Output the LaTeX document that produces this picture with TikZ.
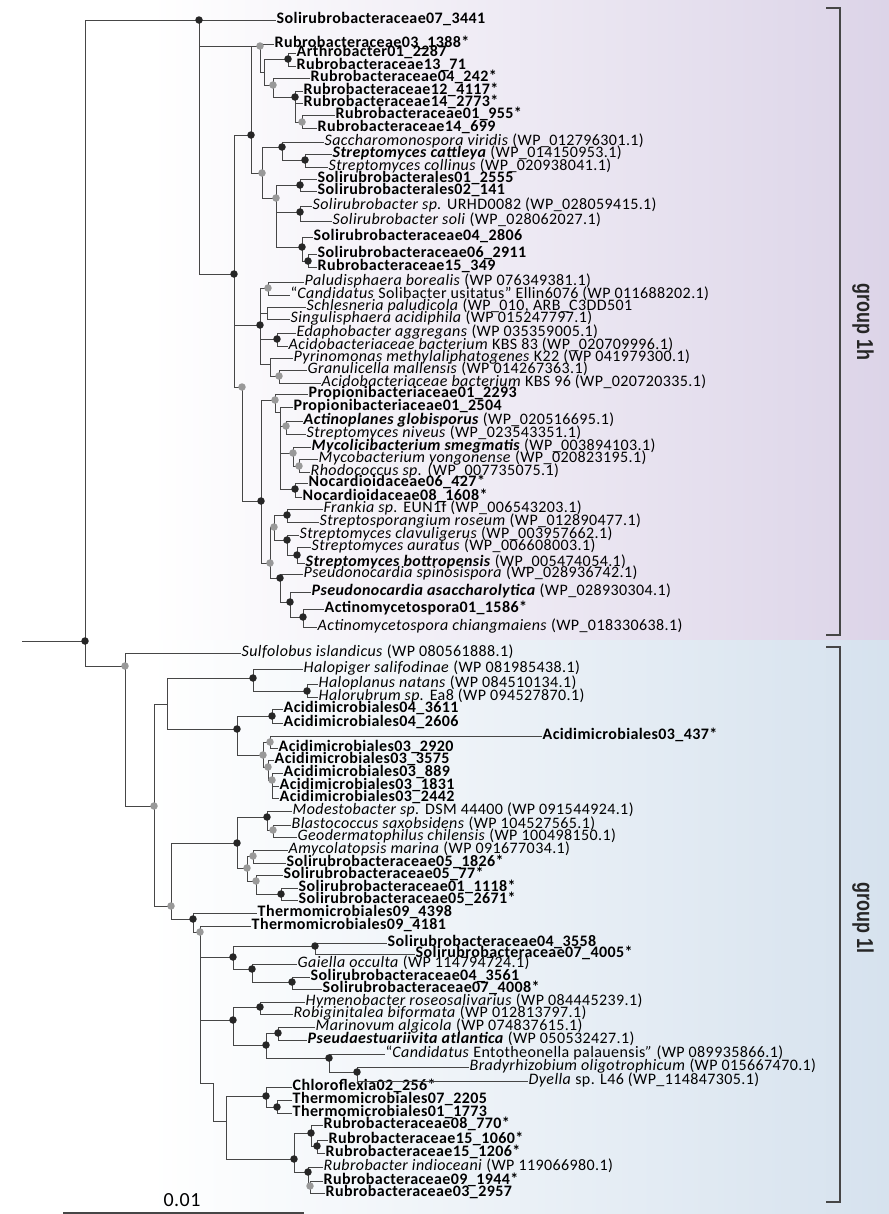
\documentclass[tikz,border=0pt]{standalone}
\usepackage{fontspec}
\setmainfont{Carlito}[LetterSpace=2.5]
\newfontfamily\grpfont[FakeStretch=0.78]{Liberation Sans}
\definecolor{lav}{RGB}{220,212,232}
\definecolor{pblue}{RGB}{214,226,238}
\definecolor{brc}{RGB}{70,70,70}
\tikzset{
  br/.style={draw=brc, line width=1bp},
  brk/.style={draw=brc, line width=1.2bp},
  bdot/.style={circle, fill=black!85, inner sep=0pt, minimum size=7.5bp},
  gdot/.style={circle, fill=black!40, inner sep=0pt, minimum size=7.5bp},
  lab/.style={anchor=west, inner sep=0.5bp, text height=8.5bp, text depth=1.5bp, font=\fontsize{16bp}{16bp}\selectfont},
  iso/.style={lab, font=\fontsize{16bp}{16bp}\selectfont\bfseries},
  grp/.style={rotate=-90, text=black!85, font=\grpfont\bfseries\fontsize{23bp}{23bp}\selectfont},
}
\begin{document}
\begin{tikzpicture}[x=1bp,y=-1bp]
\useasboundingbox (0,0) rectangle (889,1214);
\fill[white] (0,0) rectangle (889,1214);
\shade[left color=white, right color=lav] (150,0) rectangle (889,640);
\shade[left color=white, right color=pblue] (150,640) rectangle (889,1214);

% inner nodes, group 1h
\coordinate (rs) at (22,641);
\coordinate (R) at (85,641);
\coordinate (N1) at (199,20);
\coordinate (G1) at (260,46);
\coordinate (N4) at (264,72);
\coordinate (B1) at (288,59);
\coordinate (G3) at (273,85);
\coordinate (B2) at (295,97);
\coordinate (G4) at (302,122);
\coordinate (N3) at (234,274);
\coordinate (N2) at (251,135);
\coordinate (G2) at (262,173);
\coordinate (B3) at (282,147);
\coordinate (B3b) at (305,160);
\coordinate (G5) at (276,198);
\coordinate (B4) at (300,185);
\coordinate (B5) at (300,212);
\coordinate (B6) at (302,247);
\coordinate (B7) at (308,261);
\coordinate (B8) at (260,325);
\coordinate (G6) at (268,288);
\coordinate (N5) at (267,313);
\coordinate (B9) at (277,339);
\coordinate (N6) at (270,364);
\coordinate (G7) at (279,376);
\coordinate (A0) at (242,387);
\coordinate (A1) at (261,501);
\coordinate (A2) at (275,400);
\coordinate (A3) at (280,412);
\coordinate (A4) at (286,426);
\coordinate (A5) at (293,453);
\coordinate (A6) at (299,466);
\coordinate (A7) at (295,489);
\coordinate (A8) at (270,563);
\coordinate (A9) at (274,527);
\coordinate (A10) at (287,515);
\coordinate (A11) at (287,540);
\coordinate (A12) at (297,555);
\coordinate (A13) at (280,578);
\coordinate (A14) at (290,602);
\coordinate (A15) at (303,617);

% inner nodes, group 1l
\coordinate (S0) at (125,666);
\coordinate (S1) at (154,806);
\coordinate (S2) at (167,704);
\coordinate (S3) at (253,678);
\coordinate (S4) at (307,691);
\coordinate (S5) at (237,729);
\coordinate (S6) at (272,716);
\coordinate (S7) at (263,755);
\coordinate (S8) at (270,742);
\coordinate (S9) at (268,767);
\coordinate (S10) at (272,780);
\coordinate (T0) at (171,906);
\coordinate (T1) at (237,843);
\coordinate (T2) at (267,817);
\coordinate (T3) at (273,830);
\coordinate (T4) at (247,868);
\coordinate (T5) at (253,856);
\coordinate (T6) at (256,881);
\coordinate (T7) at (281,894);
\coordinate (T8) at (193,919);
\coordinate (T9) at (200,932);
\coordinate (U1) at (233,957);
\coordinate (U2) at (315,946);
\coordinate (U3) at (252,969);
\coordinate (U4) at (292,982);
\coordinate (U5) at (233,1020);
\coordinate (U6) at (260,1007);
\coordinate (U7) at (266,1045);
\coordinate (U8) at (278,1033);
\coordinate (U9) at (329,1058);
\coordinate (U10) at (357,1072);
\coordinate (U11) at (213,1083);
\coordinate (U12) at (226,1121);
\coordinate (U13) at (266,1096);
\coordinate (U14) at (277,1107);
\coordinate (U15) at (294,1159);
\coordinate (U16) at (311,1133);
\coordinate (U17) at (317,1146);
\coordinate (U18) at (308,1172);
\coordinate (U19) at (310,1186);

% leaves, group 1h
\node[iso] (l01) at (276,20) {Solirubrobacteraceae07\_3441};
\node[iso] (l02) at (274,44) {Rubrobacteraceae03\_1388*};
\node[iso] (l03) at (296,53) {Arthrobacter01\_2287};
\node[iso] (l04) at (296,66) {Rubrobacteraceae13\_71};
\node[iso] (l05) at (310,78) {Rubrobacteraceae04\_242*};
\node[iso] (l06) at (303,91) {Rubrobacteraceae12\_4117*};
\node[iso] (l07) at (303,103) {Rubrobacteraceae14\_2773*};
\node[iso] (l08) at (335,115) {Rubrobacteraceae01\_955*};
\node[iso] (l09) at (317,128) {Rubrobacteraceae14\_699};
\node[lab] (l10) at (324,142) {\textit{Saccharomonospora viridis} (WP\_012796301.1)};
\node[lab] (l11) at (332,154) {\textbf{\textit{Streptomyces cattleya}} (WP\_014150953.1)};
\node[lab] (l12) at (328,167) {\textit{Streptomyces collinus} (WP\_020938041.1)};
\node[iso] (l13) at (317,179) {Solirubrobacterales01\_2555};
\node[iso] (l14) at (317,191) {Solirubrobacterales02\_141};
\node[lab] (l15) at (312,206) {\textit{Solirubrobacter sp.} URHD0082 (WP\_028059415.1)};
\node[lab] (l16) at (332,221) {\textit{Solirubrobacter soli} (WP\_028062027.1)};
\node[iso] (l17) at (313,237) {Solirubrobacteraceae04\_2806};
\node[iso] (l18) at (317,254) {Solirubrobacteraceae06\_2911};
\node[iso] (l19) at (317,267) {Rubrobacteraceae15\_349};
\node[lab] (l20) at (304,282) {\textit{Paludisphaera borealis} (WP 076349381.1)};
\node[lab] (l21) at (290,295) {“\textit{Candidatus} Solibacter usitatus” Ellin6076 (WP 011688202.1)};
\node[lab] (l22) at (306,307) {\textit{Schlesneria paludicola} (WP\_010, ARB\_C3DD501};
\node[lab] (l23) at (290,319) {\textit{Singulisphaera acidiphila} (WP 015247797.1)};
\node[lab] (l24) at (296,333) {\textit{Edaphobacter aggregans} (WP 035359005.1)};
\node[lab] (l25) at (288,346) {\textit{Acidobacteriaceae bacterium} KBS 83 (WP\_020709996.1)};
\node[lab] (l26) at (293,358) {\textit{Pyrinomonas methylaliphatogenes} K22 (WP 041979300.1)};
\node[lab] (l27) at (307,370) {\textit{Granulicella mallensis} (WP 014267363.1)};
\node[lab] (l28) at (321,383) {\textit{Acidobacteriaceae bacterium} KBS 96 (WP\_020720335.1)};
\node[iso] (l29) at (308,394) {Propionibacteriaceae01\_2293};
\node[iso] (l30) at (293,407) {Propionibacteriaceae01\_2504};
\node[lab] (l31) at (303,421) {\textbf{\textit{Actinoplanes globisporus}} (WP\_020516695.1)};
\node[lab] (l32) at (306,434) {\textit{Streptomyces niveus} (WP\_023543351.1)};
\node[lab] (l33) at (311,447) {\textbf{\textit{Mycolicibacterium smegmatis}} (WP\_003894103.1)};
\node[lab] (l34) at (318,459) {\textit{Mycobacterium yongonense} (WP\_020823195.1)};
\node[lab] (l35) at (310,472) {\textit{Rhodococcus sp.} (WP\_007735075.1)};
\node[iso] (l36) at (308,483) {Nocardioidaceae06\_427*};
\node[iso] (l37) at (302,497) {Nocardioidaceae08\_1608*};
\node[lab] (l38) at (323,509) {\textit{Frankia sp.} EUN1f (WP\_006543203.1)};
\node[lab] (l39) at (319,522) {\textit{Streptosporangium roseum} (WP\_012890477.1)};
\node[lab] (l40) at (299,535) {\textit{Streptomyces clavuligerus} (WP\_003957662.1)};
\node[lab] (l41) at (311,547) {\textit{Streptomyces auratus} (WP\_006608003.1)};
\node[lab] (l42) at (305,563) {\textbf{\textit{Streptomyces bottropensis}} (WP\_005474054.1)};
\node[lab] (l43) at (303,574) {\textit{Pseudonocardia spinosispora} (WP\_028936742.1)};
\node[lab] (l44) at (311,592) {\textbf{\textit{Pseudonocardia asaccharolytica}} (WP\_028930304.1)};
\node[iso] (l45) at (324,609) {Actinomycetospora01\_1586*};
\node[lab] (l46) at (317,627) {\textit{Actinomycetospora chiangmaiens} (WP\_018330638.1)};

% leaves, group 1l
\node[lab] (m01) at (241,653) {\textit{Sulfolobus islandicus} (WP 080561888.1)};
\node[lab] (m02) at (303,669) {\textit{Halopiger salifodinae} (WP 081985438.1)};
\node[lab] (m03) at (318,684) {\textit{Haloplanus natans} (WP 084510134.1)};
\node[lab] (m04) at (318,697) {\textit{Halorubrum sp.} Ea8 (WP 094527870.1)};
\node[iso] (m05) at (283,709) {Acidimicrobiales04\_3611};
\node[iso] (m06) at (283,723) {Acidimicrobiales04\_2606};
\node[iso] (m07) at (542,736) {Acidimicrobiales03\_437*};
\node[iso] (m08) at (278,748) {Acidimicrobiales03\_2920};
\node[iso] (m09) at (274,760) {Acidimicrobiales03\_3575};
\node[iso] (m10) at (283,773) {Acidimicrobiales03\_889};
\node[iso] (m11) at (279,786) {Acidimicrobiales03\_1831};
\node[iso] (m12) at (279,798) {Acidimicrobiales03\_2442};
\node[lab] (m13) at (292,811) {\textit{Modestobacter sp.} DSM 44400 (WP 091544924.1)};
\node[lab] (m14) at (291,825) {\textit{Blastococcus saxobsidens} (WP 104527565.1)};
\node[lab] (m15) at (297,837) {\textit{Geodermatophilus chilensis} (WP 100498150.1)};
\node[lab] (m16) at (288,850) {\textit{Amycolatopsis marina} (WP 091677034.1)};
\node[iso] (m17) at (286,863) {Solirubrobacteraceae05\_1826*};
\node[iso] (m18) at (283,875) {Solirubrobacteraceae05\_77*};
\node[iso] (m19) at (298,888) {Solirubrobacteraceae01\_1118*};
\node[iso] (m20) at (298,900) {Solirubrobacteraceae05\_2671*};
\node[iso] (m21) at (257,913) {Thermomicrobiales09\_4398};
\node[iso] (m22) at (251,926) {Thermomicrobiales09\_4181};
\node[iso] (m23) at (387,943) {Solirubrobacteraceae04\_3558};
\node[iso] (m24) at (415,954) {Solirubrobacteraceae07\_4005*};
\node[lab] (m25) at (297,964) {\textit{Gaiella occulta} (WP 114794724.1)};
\node[iso] (m26) at (310,977) {Solirubrobacteraceae04\_3561};
\node[iso] (m27) at (322,989) {Solirubrobacteraceae07\_4008*};
\node[lab] (m28) at (305,1002) {\textit{Hymenobacter roseosalivarius} (WP 084445239.1)};
\node[lab] (m29) at (293,1014) {\textit{Robiginitalea biformata} (WP 012813797.1)};
\node[lab] (m30) at (315,1027) {\textit{Marinovum algicola} (WP 074837615.1)};
\node[lab] (m31) at (307,1040) {\textbf{\textit{Pseudaestuariivita atlantica}} (WP 050532427.1)};
\node[lab] (m32) at (385,1054) {“\textit{Candidatus} Entotheonella palauensis\textit{”} (WP 089935866.1)};
\node[lab] (m33) at (469,1067) {\textit{Bradyrhizobium oligotrophicum} (WP 015667470.1)};
\node[lab] (m34) at (528,1081) {\textit{Dyella} sp. L46 (WP\_114847305.1)};
\node[iso] (m35) at (292,1087) {Chloroflexia02\_256*};
\node[iso] (m36) at (292,1100) {Thermomicrobiales07\_2205};
\node[iso] (m37) at (292,1113) {Thermomicrobiales01\_1773};
\node[iso] (m38) at (323,1125) {Rubrobacteraceae08\_770*};
\node[iso] (m39) at (328,1140) {Rubrobacteraceae15\_1060*};
\node[iso] (m40) at (325,1153) {Rubrobacteraceae15\_1206*};
\node[lab] (m41) at (323,1167) {\textit{Rubrobacter indioceani} (WP 119066980.1)};
\node[iso] (m42) at (323,1181) {Rubrobacteraceae09\_1944*};
\node[iso] (m43) at (325,1193) {Rubrobacteraceae03\_2957};

% branches
\draw[br] (rs) -- (R);
\draw[br] (R) |- (N1);
\draw[br] (R) |- (S0);
\draw[br] (N1) |- (l01.west);
\draw[br] (N1) |- (G1);
\draw[br] (N1) |- (N3);
\draw[br] (G1) |- (l02.west);
\draw[br] (G1) |- (N4);
\draw[br] (N4) |- (B1);
\draw[br] (N4) |- (G3);
\draw[br] (B1) |- (l03.west);
\draw[br] (B1) |- (l04.west);
\draw[br] (G3) |- (l05.west);
\draw[br] (G3) |- (B2);
\draw[br] (B2) |- (l06.west);
\draw[br] (B2) |- (l07.west);
\draw[br] (B2) |- (G4);
\draw[br] (G4) |- (l08.west);
\draw[br] (G4) |- (l09.west);
\draw[br] (N3) |- (N2);
\draw[br] (N3) |- (B8);
\draw[br] (N3) |- (A0);
\draw[br] (N2) |- (G1);
\draw[br] (N2) |- (G2);
\draw[br] (G2) |- (B3);
\draw[br] (G2) |- (G5);
\draw[br] (B3) |- (l10.west);
\draw[br] (B3) |- (B3b);
\draw[br] (B3b) |- (l11.west);
\draw[br] (B3b) |- (l12.west);
\draw[br] (G5) |- (B4);
\draw[br] (G5) |- (B5);
\draw[br] (G5) |- (B6);
\draw[br] (B4) |- (l13.west);
\draw[br] (B4) |- (l14.west);
\draw[br] (B5) |- (l15.west);
\draw[br] (B5) |- (l16.west);
\draw[br] (B6) |- (l17.west);
\draw[br] (B6) |- (B7);
\draw[br] (B7) |- (l18.west);
\draw[br] (B7) |- (l19.west);
\draw[br] (B8) |- (G6);
\draw[br] (B8) |- (N5);
\draw[br] (B8) |- (B9);
\draw[br] (B8) |- (N6);
\draw[br] (G6) |- (l20.west);
\draw[br] (G6) |- (l21.west);
\draw[br] (N5) |- (l22.west);
\draw[br] (N5) |- (l23.west);
\draw[br] (B9) |- (l24.west);
\draw[br] (B9) |- (l25.west);
\draw[br] (N6) |- (l26.west);
\draw[br] (N6) |- (G7);
\draw[br] (G7) |- (l27.west);
\draw[br] (G7) |- (l28.west);
\draw[br] (A0) |- (A1);
\draw[br] (A1) |- (A2);
\draw[br] (A1) |- (A8);
\draw[br] (A2) |- (l29.west);
\draw[br] (A2) |- (A3);
\draw[br] (A3) |- (l30.west);
\draw[br] (A3) |- (A4);
\draw[br] (A3) |- (A5);
\draw[br] (A3) |- (A7);
\draw[br] (A4) |- (l31.west);
\draw[br] (A4) |- (l32.west);
\draw[br] (A5) |- (l33.west);
\draw[br] (A5) |- (A6);
\draw[br] (A6) |- (l34.west);
\draw[br] (A6) |- (l35.west);
\draw[br] (A7) |- (l36.west);
\draw[br] (A7) |- (l37.west);
\draw[br] (A8) |- (A9);
\draw[br] (A8) |- (A13);
\draw[br] (A9) |- (A10);
\draw[br] (A9) |- (A11);
\draw[br] (A10) |- (l38.west);
\draw[br] (A10) |- (l39.west);
\draw[br] (A11) |- (l40.west);
\draw[br] (A11) |- (A12);
\draw[br] (A12) |- (l41.west);
\draw[br] (A12) |- (l42.west);
\draw[br] (A13) |- (l43.west);
\draw[br] (A13) |- (A14);
\draw[br] (A14) |- (l44.west);
\draw[br] (A14) |- (A15);
\draw[br] (A15) |- (l45.west);
\draw[br] (A15) |- (l46.west);

\draw[br] (S0) |- (m01.west);
\draw[br] (S0) |- (S1);
\draw[br] (S1) |- (S2);
\draw[br] (S1) |- (T0);
\draw[br] (S2) |- (S3);
\draw[br] (S2) |- (S5);
\draw[br] (S3) |- (m02.west);
\draw[br] (S3) |- (S4);
\draw[br] (S4) |- (m03.west);
\draw[br] (S4) |- (m04.west);
\draw[br] (S5) |- (S6);
\draw[br] (S5) |- (S7);
\draw[br] (S6) |- (m05.west);
\draw[br] (S6) |- (m06.west);
\draw[br] (S7) |- (S8);
\draw[br] (S7) |- (S9);
\draw[br] (S8) |- (m07.west);
\draw[br] (S8) |- (m08.west);
\draw[br] (S9) |- (m09.west);
\draw[br] (S9) |- (S10);
\draw[br] (S10) |- (m10.west);
\draw[br] (S10) |- (m11.west);
\draw[br] (S10) |- (m12.west);
\draw[br] (T0) |- (T1);
\draw[br] (T0) |- (T8);
\draw[br] (T1) |- (T2);
\draw[br] (T1) |- (T4);
\draw[br] (T2) |- (m13.west);
\draw[br] (T2) |- (T3);
\draw[br] (T3) |- (m14.west);
\draw[br] (T3) |- (m15.west);
\draw[br] (T4) |- (T5);
\draw[br] (T4) |- (T6);
\draw[br] (T5) |- (m16.west);
\draw[br] (T5) |- (m17.west);
\draw[br] (T6) |- (m18.west);
\draw[br] (T6) |- (T7);
\draw[br] (T7) |- (m19.west);
\draw[br] (T7) |- (m20.west);
\draw[br] (T8) |- (m21.west);
\draw[br] (T8) |- (T9);
\draw[br] (T9) |- (m22.west);
\draw[br] (T9) |- (U1);
\draw[br] (T9) |- (U5);
\draw[br] (T9) |- (U11);
\draw[br] (U1) |- (U2);
\draw[br] (U1) |- (U3);
\draw[br] (U2) |- (m23.west);
\draw[br] (U2) |- (m24.west);
\draw[br] (U3) |- (m25.west);
\draw[br] (U3) |- (U4);
\draw[br] (U4) |- (m26.west);
\draw[br] (U4) |- (m27.west);
\draw[br] (U5) |- (U6);
\draw[br] (U5) |- (U7);
\draw[br] (U6) |- (m28.west);
\draw[br] (U6) |- (m29.west);
\draw[br] (U7) |- (U8);
\draw[br] (U7) |- (U9);
\draw[br] (U8) |- (m30.west);
\draw[br] (U8) |- (m31.west);
\draw[br] (U9) |- (m32.west);
\draw[br] (U9) |- (U10);
\draw[br] (U10) |- (m33.west);
\draw[br] (U10) |- (m34.west);
\draw[br] (U11) |- (U12);
\draw[br] (U12) |- (U13);
\draw[br] (U12) |- (U15);
\draw[br] (U13) |- (m35.west);
\draw[br] (U13) |- (U14);
\draw[br] (U14) |- (m36.west);
\draw[br] (U14) |- (m37.west);
\draw[br] (U15) |- (U16);
\draw[br] (U15) |- (U18);
\draw[br] (U16) |- (m38.west);
\draw[br] (U16) |- (U17);
\draw[br] (U17) |- (m39.west);
\draw[br] (U17) |- (m40.west);
\draw[br] (U18) |- (m41.west);
\draw[br] (U18) |- (U19);
\draw[br] (U19) |- (m42.west);
\draw[br] (U19) |- (m43.west);

% support dots
\foreach \n in {R,N1,N3,N2,B1,B2,B3,B3b,B4,B5,B6,B7,B8,B9,A1,A7,A10,A11,A12,A13,A14,A15,
  S3,S4,S5,S6,T1,T2,T7,T8,U1,U2,U3,U4,U5,U6,U7,U8,U9,U10,U13,U14,U15,U16,U17,U18}
  \node[bdot] (d\n) at (\n) {};
\foreach \n in {G1,G3,G4,G2,G5,G6,G7,A0,A2,A4,A5,A6,A8,A9,
  S0,S1,S7,S8,S9,S10,T0,T3,T4,T5,T6,T9,U19}
  \node[gdot] (d\n) at (\n) {};

% scale bar
\coordinate (sb1) at (63,1213);
\coordinate (sb2) at (304,1213);
\draw[brc, line width=1.6bp] (sb1) -- (sb2);
\node[inner sep=0pt, font=\fontsize{20bp}{20bp}\selectfont] (sbl) at (182,1200) {0.01};

% groups
\coordinate (h1) at (826,8);
\coordinate (h2) at (826,635);
\coordinate (k1) at (826,647);
\coordinate (k2) at (826,1202);
\draw[brk] (h1) -- ++(14,0) |- (h2);
\draw[brk] (k1) -- ++(14,0) |- (k2);
\node[grp] (g1h) at (863,322) {group 1h};
\node[grp] (g1l) at (863,918) {group 1l};
\end{tikzpicture}
\end{document}
